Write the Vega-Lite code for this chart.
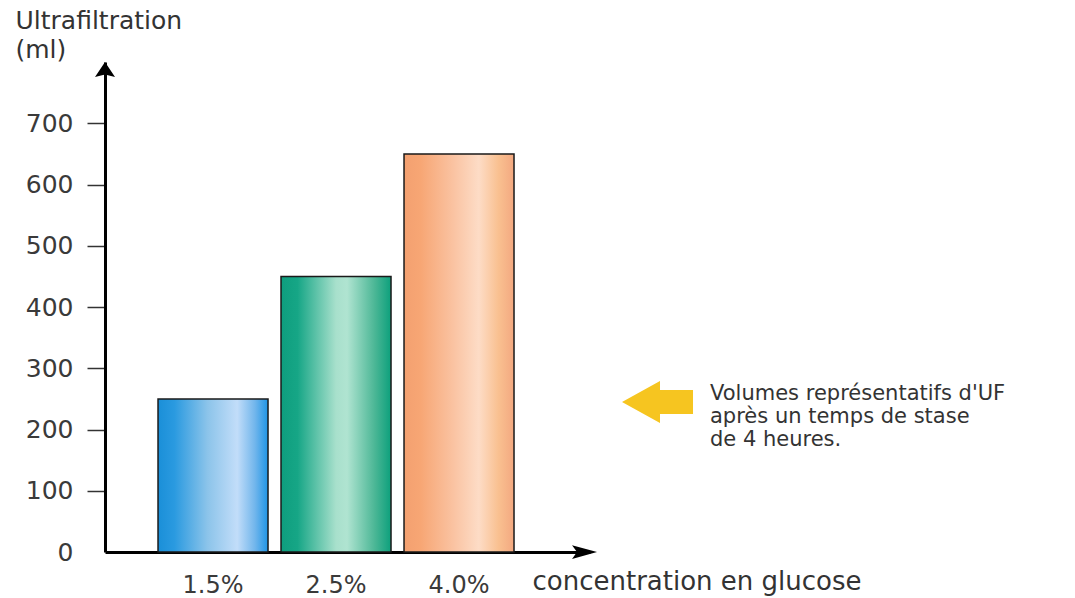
{
  "$schema": "https://vega.github.io/schema/vega-lite/v6.json",
  "width": 485,
  "height": 490,
  "autosize": {"type": "none"},
  "padding": {"left": 105, "top": 62, "right": 485, "bottom": 46},
  "background": "white",
  "config": {"view": {"stroke": null}, "font": "DejaVu Sans"},
  "layer": [
    {
      "data": {"values": [
        {"concentration": "1.5%", "uf": 250},
        {"concentration": "2.5%", "uf": 450},
        {"concentration": "4.0%", "uf": 650}
      ]},
      "encoding": {
        "x": {
          "field": "concentration", "type": "nominal", "sort": null,
          "scale": {"domain": ["1.5%", "2.5%", "4.0%"], "range": [0, 485], "paddingInner": 0.1057, "paddingOuter": 0.5244, "align": 0.411},
          "axis": {
            "title": "concentration en glucose", "titleFontSize": 26, "titleFontWeight": "normal", "titleColor": "#333",
            "titleAlign": "left", "titleAnchor": "start", "titleBaseline": "alphabetic", "titleX": 427, "titleY": 37,
            "labelAngle": 0, "labelFontSize": 24, "labelColor": "#3a3a3a", "labelPadding": 21,
            "ticks": false, "domain": true, "domainColor": "#000", "domainWidth": 3, "grid": false
          }
        },
        "y": {
          "field": "uf", "type": "quantitative",
          "scale": {"domain": [0, 800], "nice": false, "zero": true},
          "axis": {
            "values": [0, 100, 200, 300, 400, 500, 600, 700],
            "title": ["Ultrafiltration", "(ml)"], "titleAngle": 0, "titleAlign": "left", "titleBaseline": "alphabetic",
            "titleX": -90, "titleY": -34, "titleFontSize": 25, "titleFontWeight": "normal", "titleColor": "#333", "titleLineHeight": 29,
            "labelFontSize": 25, "labelColor": "#3a3a3a", "labelPadding": 14,
            "tickSize": 18, "tickWidth": 1.5, "tickColor": "#333",
            "tickOpacity": {"condition": {"test": "datum.value === 0", "value": 0}, "value": 1},
            "domain": true, "domainColor": "#000", "domainWidth": 3, "grid": false
          }
        }
      },
      "layer": [
        {
          "transform": [{"filter": "datum.concentration === '1.5%'"}],
          "mark": {"type": "bar", "stroke": "#1a1a1a", "strokeWidth": 1.5,
            "fill": {"gradient": "linear", "x1": 0, "x2": 1, "y1": 0, "y2": 0, "stops": [
              {"offset": 0, "color": "#1a8fd8"}, {"offset": 0.15, "color": "#2a9ae0"},
              {"offset": 0.45, "color": "#8cc4ea"}, {"offset": 0.72, "color": "#c2ddf9"},
              {"offset": 0.88, "color": "#72b6ec"}, {"offset": 1, "color": "#1f95e6"}]}}
        },
        {
          "transform": [{"filter": "datum.concentration === '2.5%'"}],
          "mark": {"type": "bar", "stroke": "#1a1a1a", "strokeWidth": 1.5,
            "fill": {"gradient": "linear", "x1": 0, "x2": 1, "y1": 0, "y2": 0, "stops": [
              {"offset": 0, "color": "#0e9e7e"}, {"offset": 0.15, "color": "#16a686"},
              {"offset": 0.5, "color": "#a8e0cc"}, {"offset": 0.6, "color": "#b0e4d1"},
              {"offset": 0.85, "color": "#4cb796"}, {"offset": 1, "color": "#0da07c"}]}}
        },
        {
          "transform": [{"filter": "datum.concentration === '4.0%'"}],
          "mark": {"type": "bar", "stroke": "#1a1a1a", "strokeWidth": 1.5,
            "fill": {"gradient": "linear", "x1": 0, "x2": 1, "y1": 0, "y2": 0, "stops": [
              {"offset": 0, "color": "#f3a070"}, {"offset": 0.15, "color": "#f7a674"},
              {"offset": 0.45, "color": "#fac3a2"}, {"offset": 0.68, "color": "#fddcc6"},
              {"offset": 0.86, "color": "#f9c090"}, {"offset": 1, "color": "#f3a880"}]}}
        }
      ]
    },
    {
      "data": {"values": [{"note": ["Volumes représentatifs d'UF", "après un temps de stase", "de 4 heures."]}]},
      "layer": [
        {
          "mark": {"type": "point", "shape": "M 0 -1 L 1 0.5 L 0 0.25 L -1 0.5 Z", "size": 400, "filled": true, "fill": "#000", "opacity": 1, "strokeWidth": 0},
          "encoding": {
            "x": {"datum": 0, "type": "quantitative", "scale": {"domain": [0, 1]}, "axis": null},
            "y": {"datum": 783.7, "type": "quantitative", "axis": null}
          }
        },
        {
          "mark": {"type": "point", "shape": "M 1 0 L -1 -0.55 L -0.6 0 L -1 0.55 Z", "size": 625, "filled": true, "fill": "#000", "opacity": 1, "strokeWidth": 0},
          "encoding": {
            "x": {"datum": 0.9887, "type": "quantitative", "axis": null},
            "y": {"datum": 0, "type": "quantitative", "axis": null}
          }
        },
        {
          "mark": {"type": "point", "shape": "M -1 0 L 0.07 -0.59 L 0.07 -0.34 L 1 -0.34 L 1 0.34 L 0.07 0.34 L 0.07 0.59 Z", "size": 5041, "filled": true, "fill": "#f6c520", "opacity": 1, "strokeWidth": 0},
          "encoding": {
            "x": {"datum": 1.1392, "type": "quantitative", "axis": null},
            "y": {"datum": 244.9, "type": "quantitative", "axis": null}
          }
        },
        {
          "mark": {"type": "text", "align": "left", "baseline": "alphabetic", "fontSize": 21, "lineHeight": 23, "color": "#333"},
          "encoding": {
            "x": {"datum": 1.2474, "type": "quantitative", "axis": null},
            "y": {"datum": 248.2, "type": "quantitative", "axis": null},
            "text": {"field": "note"}
          }
        }
      ]
    }
  ],
  "resolve": {"scale": {"x": "independent"}, "axis": {"x": "independent", "y": "independent"}}
}
